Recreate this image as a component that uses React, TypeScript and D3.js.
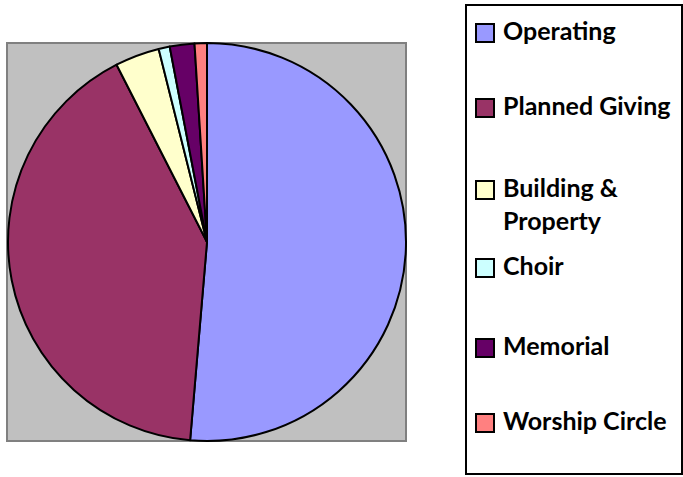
import { useRef, useEffect } from 'react';
import * as d3 from 'd3';

const categories = ['Operating', 'Planned Giving', 'Building & Property', 'Choir', 'Memorial', 'Worship Circle'];
const values = [51.3, 41.1, 3.6, 0.9, 2.0, 1.0];
const colors = ['#9999ff', '#993366', '#ffffcc', '#ccffff', '#660066', '#ff8080'];
// legend text lines per entry (Building & Property wraps)
const legendLines = [['Operating'], ['Planned Giving'], ['Building &', 'Property'], ['Choir'], ['Memorial'], ['Worship Circle']];
const legendBaselines = [40, 115, 197, 275, 355, 430];

const App = () => {
  const svgRef = useRef<SVGSVGElement>(null);

  useEffect(() => {
    const svg = d3.select(svgRef.current);
    svg.selectAll('*').remove();

    const plot = { x: 7, y: 43, w: 399, h: 398 };
    const cx = 207, cy = 242, r = 199;

    svg.append('rect')
      .attr('x', plot.x).attr('y', plot.y)
      .attr('width', plot.w).attr('height', plot.h)
      .attr('fill', '#c0c0c0')
      .attr('stroke', '#808080')
      .attr('stroke-width', 2);

    const data = categories.map((c, i) => ({ name: c, value: values[i], color: colors[i] }));
    const pie = d3.pie<any>().sort(null).value(d => d.value);
    const arc = d3.arc<any>().innerRadius(0).outerRadius(r);

    svg.append('g')
      .attr('transform', `translate(${cx},${cy})`)
      .selectAll('path')
      .data(pie(data))
      .join('path')
      .attr('d', arc)
      .attr('fill', d => d.data.color)
      .attr('stroke', '#000')
      .attr('stroke-width', 2)
      .attr('stroke-linejoin', 'round');

    // legend
    svg.append('rect')
      .attr('x', 466).attr('y', 5)
      .attr('width', 216).attr('height', 469)
      .attr('fill', '#fff')
      .attr('stroke', '#000')
      .attr('stroke-width', 2);

    const items = svg.append('g').selectAll('g')
      .data(data)
      .join('g')
      .attr('transform', (d, i) => `translate(0,${legendBaselines[i]})`);

    items.append('rect')
      .attr('x', 476).attr('y', -16)
      .attr('width', 18).attr('height', 18)
      .attr('fill', d => d.color)
      .attr('stroke', '#000')
      .attr('stroke-width', 2);

    items.each(function (d, i) {
      d3.select(this).selectAll('text')
        .data(legendLines[i])
        .join('text')
        .attr('x', 503)
        .attr('y', (t, j) => j * 33)
        .attr('font-family', 'Lato, "Open Sans", sans-serif')
        .attr('font-weight', 700)
        .attr('font-size', 25)
        .attr('fill', '#000')
        .text(t => t);
    });
  }, []);

  return (
    <svg ref={svgRef} width="683" height="477" style={{ position: 'absolute', left: 0, top: 0 }}></svg>
  );
};

export default App;
